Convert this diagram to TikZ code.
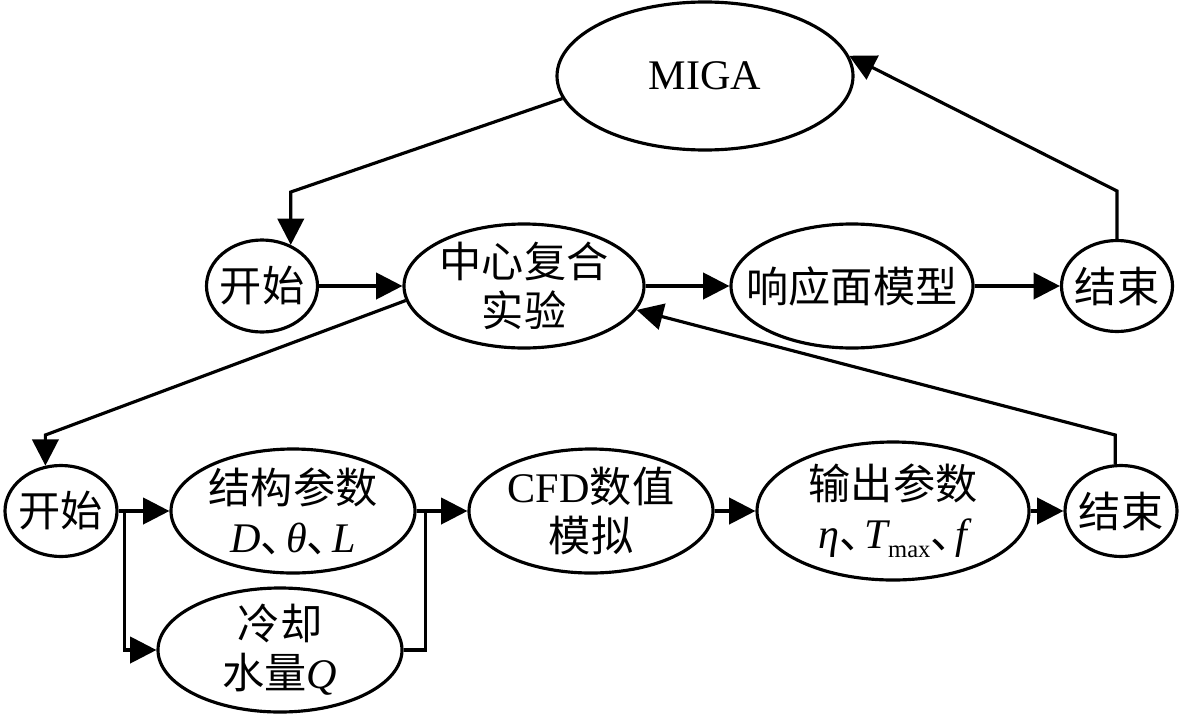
\documentclass[tikz,border=0pt]{standalone}
\usepackage{fontspec}
\usepackage{tikz}
\usetikzlibrary{shapes.geometric,arrows.meta,positioning}
\setmainfont{Liberation Serif}
\newfontfamily\cjk{Noto Sans CJK SC}
\newcommand{\zh}[1]{{\cjk #1}}
\newcommand{\dun}{\makebox[0.6em][l]{\zh{、}}}

\begin{document}
\begin{tikzpicture}[node distance=1.6cm, every node/.style={font=\fontsize{24}{28}\selectfont},
  >={Triangle[length=15pt,width=15pt]}]
  \tikzstyle{oval}=[ellipse, draw, line width=1.8pt, inner sep=-1cm, align=center]
  \tikzstyle{flow}=[->, line width=1.8pt]
  \useasboundingbox (0,0) rectangle (23.62,-14.26);
  \node[oval, minimum width=2.22cm, minimum height=1.84cm] (start) at (5.24,-5.72) {\zh{开始}};
  \node[oval, right of=start, xshift=3.64cm, minimum width=4.8cm, minimum height=2.48cm] (ccd) {\zh{中心复合}\\\zh{实验}};
  \node[oval, right of=ccd, xshift=4.96cm, minimum width=4.84cm, minimum height=2.48cm] (rsm) {\zh{响应面模型}};
  \node[oval, right of=rsm, xshift=3.7cm, minimum width=2.22cm, minimum height=1.82cm] (stop) {\zh{结束}};
  \node[oval, above of=rsm, xshift=-2.94cm, yshift=2.6cm, minimum width=5.92cm, minimum height=2.96cm] (miga) {MIGA};
  \node[oval, below of=start, xshift=-4.02cm, yshift=-2.9cm, minimum width=2.24cm, minimum height=1.82cm] (simstart) {\zh{开始}};
  \node[oval, right of=simstart, xshift=3.04cm, minimum width=4.88cm, minimum height=2.48cm] (geom) {\zh{结构参数}\\{\itshape D}\dun{\itshape θ}\dun{\itshape L}};
  \node[oval, below of=geom, xshift=-0.26cm, yshift=-1.18cm, minimum width=4.88cm, minimum height=2.48cm] (water) {\zh{冷却}\\\zh{水量}{\itshape Q}};
  \node[oval, right of=geom, xshift=4.36cm, minimum width=4.88cm, minimum height=2.48cm] (cfd) {CFD\zh{数值}\\\zh{模拟}};
  \node[oval, right of=cfd, xshift=4.44cm, minimum width=5.44cm, minimum height=2.76cm] (output) {\zh{输出参数}\\{\itshape η}\dun{\itshape T}\raisebox{-5pt}{\fontsize{14}{14}\selectfont max}\dun{\itshape f}};
  \node[oval, right of=output, xshift=2.96cm, minimum width=2.24cm, minimum height=1.82cm] (simstop) {\zh{结束}};
  \draw[flow] (miga.189) -- (start.55 |- 0,-3.84) -- (start.55);
  \draw[flow] (start) -- (ccd);
  \draw[flow] (ccd) -- (rsm);
  \draw[flow] (rsm) -- (stop);
  \draw[flow] (stop.north) -- (stop.north |- 0,-3.82) -- (miga.8);
  \draw[flow] (ccd.187) -- (simstart.109 |- 0,-8.7) -- (simstart.109);
  \draw[flow] (simstart) -- (geom);
  \draw[flow] (simstart.east) -- ++(0.12,0) |- (water);
  \draw[flow] (geom) -- (cfd);
  \draw[line width=1.8pt] (water.east) -| ([xshift=0.18cm]geom.east);
  \draw[flow] (cfd) -- (output);
  \draw[flow] (output) -- (simstop);
  \draw[flow] (simstop.97) -- (simstop.97 |- 0,-8.7) -- (ccd.348);
\end{tikzpicture}
\end{document}
